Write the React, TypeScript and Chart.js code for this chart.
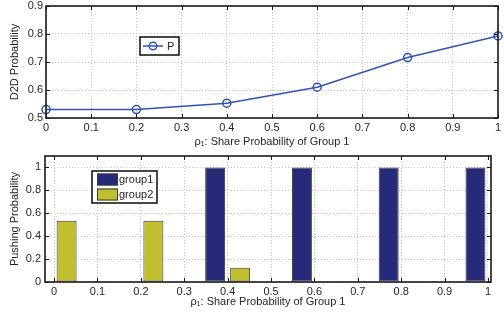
import React, { useEffect, useRef } from "react";
import { Chart, registerables } from "chart.js";

Chart.register(...registerables);

// ---- data ----
const shareProb = [0, 0.2, 0.4, 0.6, 0.8, 1];
const d2dProb = [0.53, 0.53, 0.553, 0.61, 0.716, 0.793];
const group1 = [0, 0, 1, 1, 1, 1];
const group2 = [0.535, 0.535, 0.125, 0, 0, 0];
const xTicks = [0, 0.1, 0.2, 0.3, 0.4, 0.5, 0.6, 0.7, 0.8, 0.9, 1];
const topYTicks = [0.5, 0.6, 0.7, 0.8, 0.9];
const bottomYTicks = [0, 0.2, 0.4, 0.6, 0.8, 1];
const lineLabel = "P";
const barLabels = ["group1", "group2"];
const xTitle = "ρ₁: Share Probability of Group 1";
const topYTitle = "D2D Probability";
const bottomYTitle = "Pushing Probability";

const FONT = "'Liberation Sans', Arial, Helvetica, sans-serif";
const TEXT = "#262626";
const GRID = "#c4c4c4";
const LINE_BLUE = "#3154b4";
const NAVY = "#262a78";
const OLIVE = "#bfbf30";
const EDGE = "#3a3a3a";

Chart.defaults.font.family = FONT;
Chart.defaults.font.size = 11;
Chart.defaults.color = TEXT;

const framePlugin = {
  id: "frame",
  afterDatasetsDraw(chart: any) {
    const { ctx, chartArea: a, scales } = chart;
    const xs = scales.x;
    const ys = scales.y;
    const tl = 4;
    ctx.save();
    ctx.strokeStyle = "#1a1a1a";
    ctx.lineWidth = 1;
    ctx.beginPath();
    xs.ticks.forEach((t: any) => {
      const p = Math.round(xs.getPixelForValue(t.value)) + 0.5;
      ctx.moveTo(p, a.bottom);
      ctx.lineTo(p, a.bottom - tl);
      ctx.moveTo(p, a.top);
      ctx.lineTo(p, a.top + tl);
    });
    ys.ticks.forEach((t: any) => {
      const p = Math.round(ys.getPixelForValue(t.value)) + 0.5;
      ctx.moveTo(a.left, p);
      ctx.lineTo(a.left + tl, p);
      ctx.moveTo(a.right, p);
      ctx.lineTo(a.right - tl, p);
    });
    ctx.stroke();
    ctx.lineWidth = 1.6;
    ctx.strokeRect(a.left, a.top, a.right - a.left, a.bottom - a.top);
    ctx.restore();
  },
};

const lineLegendPlugin = {
  id: "lineLegend",
  afterDraw(chart: any) {
    const { ctx, chartArea: a } = chart;
    const ds = chart.data.datasets[0];
    const x = a.left + 94;
    const y = a.top + 31;
    const w = 39;
    const h = 18;
    ctx.save();
    ctx.fillStyle = "#fff";
    ctx.fillRect(x, y, w, h);
    ctx.strokeStyle = "#1a1a1a";
    ctx.lineWidth = 1.6;
    ctx.strokeRect(x, y, w, h);
    const cy = y + h / 2;
    ctx.strokeStyle = ds.borderColor;
    ctx.lineWidth = 1.5;
    ctx.beginPath();
    ctx.moveTo(x + 3, cy);
    ctx.lineTo(x + 23, cy);
    ctx.stroke();
    ctx.beginPath();
    ctx.arc(x + 13, cy, 3.8, 0, Math.PI * 2);
    ctx.stroke();
    ctx.fillStyle = TEXT;
    ctx.font = `11px ${FONT}`;
    ctx.textBaseline = "middle";
    ctx.textAlign = "left";
    ctx.fillText(ds.label, x + 27, cy + 0.5);
    ctx.restore();
  },
};

const barLegendPlugin = {
  id: "barLegend",
  afterDraw(chart: any) {
    const { ctx, chartArea: a } = chart;
    const x = a.left + 47;
    const y = a.top + 15;
    const w = 65;
    const h = 32;
    ctx.save();
    ctx.fillStyle = "#fff";
    ctx.fillRect(x, y, w, h);
    ctx.strokeStyle = "#1a1a1a";
    ctx.lineWidth = 1.6;
    ctx.strokeRect(x, y, w, h);
    chart.data.datasets.forEach((ds: any, i: number) => {
      const sy = y + 2.5 + i * 15;
      ctx.fillStyle = ds.backgroundColor;
      ctx.fillRect(x + 5, sy, 21, 12);
      ctx.strokeStyle = EDGE;
      ctx.lineWidth = 1;
      ctx.strokeRect(x + 5.5, sy + 0.5, 20, 11);
      ctx.fillStyle = TEXT;
      ctx.font = `11px ${FONT}`;
      ctx.textBaseline = "middle";
      ctx.textAlign = "left";
      ctx.fillText(ds.label, x + 27, sy + 6.5);
    });
    ctx.restore();
  },
};

function setTicks(values: number[]) {
  return (scale: any) => {
    scale.ticks = values.map((v) => ({ value: v }));
  };
}

function fixSize(dim: "width" | "height", size: number) {
  return (s: any) => {
    s[dim] = size;
    s.paddingTop = 0;
    s.paddingBottom = 0;
    s.paddingLeft = 0;
    s.paddingRight = 0;
  };
}

const fmt = (v: any) => String(v);

function gridOpts() {
  return { color: GRID, lineWidth: 1, drawTicks: false };
}

function TopChart() {
  const ref = useRef<HTMLCanvasElement>(null);
  useEffect(() => {
    const chart = new Chart(ref.current as HTMLCanvasElement, {
      type: "line",
      data: {
        datasets: [
          {
            label: lineLabel,
            data: shareProb.map((x, i) => ({ x, y: d2dProb[i] })),
            borderColor: LINE_BLUE,
            borderWidth: 1.5,
            pointStyle: "circle",
            pointRadius: 4,
            pointBorderWidth: 1.5,
            pointBorderColor: LINE_BLUE,
            pointBackgroundColor: "rgba(0,0,0,0)",
            tension: 0,
            clip: false as any,
          },
        ],
      },
      options: {
        responsive: false,
        animation: false,
        devicePixelRatio: 1,
        layout: { padding: { top: 6, right: 6, left: 0, bottom: 0 } },
        plugins: { legend: { display: false }, tooltip: { enabled: false } },
        scales: {
          x: {
            type: "linear",
            min: 0,
            max: 1,
            afterBuildTicks: setTicks(xTicks),
            afterFit: fixSize("height", 32),
            grid: gridOpts(),
            border: { display: false, dash: [1, 2] },
            ticks: { padding: 3, maxRotation: 0, autoSkip: false, font: { size: 11 }, callback: fmt },
            title: {
              display: true,
              text: xTitle,
              font: { size: 11 },
              padding: { top: 0, bottom: 1 },
            },
          },
          y: {
            type: "linear",
            min: 0.5,
            max: 0.9,
            afterBuildTicks: setTicks(topYTicks),
            afterFit: fixSize("width", 46),
            grid: gridOpts(),
            border: { display: false, dash: [1, 2] },
            ticks: { padding: 3, font: { size: 11 }, callback: fmt },
            title: {
              display: true,
              text: topYTitle,
              font: { size: 11 },
              padding: { top: 8.5, bottom: 0 },
            },
          },
        },
      },
      plugins: [framePlugin, lineLegendPlugin],
    } as any);
    return () => chart.destroy();
  }, []);
  return <canvas ref={ref} width={504} height={150} style={{ display: "block" }} />;
}

function BottomChart() {
  const ref = useRef<HTMLCanvasElement>(null);
  useEffect(() => {
    const barCommon = {
      borderColor: EDGE,
      borderWidth: 1,
      borderSkipped: false,
      categoryPercentage: 1.152,
      barPercentage: 0.8,
    };
    const chart = new Chart(ref.current as HTMLCanvasElement, {
      type: "bar",
      data: {
        datasets: [
          {
            label: barLabels[0],
            data: shareProb.map((x, i) => ({ x, y: group1[i] })),
            backgroundColor: NAVY,
            ...barCommon,
          },
          {
            label: barLabels[1],
            data: shareProb.map((x, i) => ({ x, y: group2[i] })),
            backgroundColor: OLIVE,
            ...barCommon,
          },
        ],
      },
      options: {
        responsive: false,
        animation: false,
        devicePixelRatio: 1,
        layout: { padding: { top: 6, right: 13, left: 0, bottom: 0 } },
        plugins: { legend: { display: false }, tooltip: { enabled: false } },
        scales: {
          x: {
            type: "linear",
            min: -0.021,
            max: 1.007,
            offset: false,
            afterBuildTicks: setTicks(xTicks),
            afterFit: fixSize("height", 32),
            grid: { ...gridOpts(), offset: false },
            border: { display: false, dash: [1, 2] },
            ticks: { padding: 3.5, maxRotation: 0, autoSkip: false, font: { size: 11 }, callback: fmt },
            title: {
              display: true,
              text: xTitle,
              font: { size: 11 },
              padding: { top: 0, bottom: 5.4 },
            },
          },
          y: {
            type: "linear",
            min: 0,
            max: 1.1,
            afterBuildTicks: setTicks(bottomYTicks),
            afterFit: fixSize("width", 45),
            grid: gridOpts(),
            border: { display: false, dash: [1, 2] },
            ticks: { padding: 4, font: { size: 11 }, callback: fmt },
            title: {
              display: true,
              text: bottomYTitle,
              font: { size: 11 },
              padding: { top: 8.5, bottom: 0 },
            },
          },
        },
      },
      plugins: [framePlugin, barLegendPlugin],
    } as any);
    return () => chart.destroy();
  }, []);
  return <canvas ref={ref} width={504} height={164} style={{ display: "block" }} />;
}

export default function App() {
  return (
    <div
      style={{
        position: "absolute",
        left: 0,
        top: 0,
        width: 504,
        height: 314,
        background: "#fff",
      }}
    >
      <TopChart />
      <BottomChart />
    </div>
  );
}
